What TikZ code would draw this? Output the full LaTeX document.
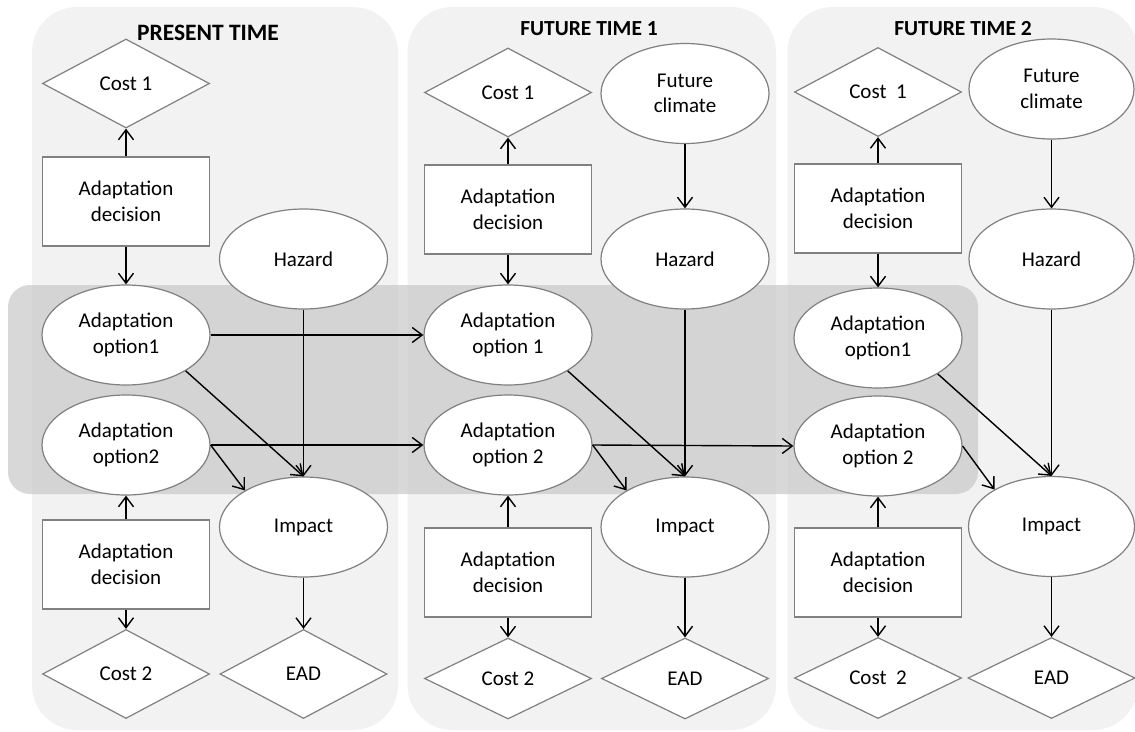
\documentclass[tikz,border=0pt]{standalone}
\usepackage{fontspec}
\setmainfont{Carlito}
\usetikzlibrary{shapes.geometric,arrows.meta}
\definecolor{panelgray}{HTML}{F2F2F2}
\definecolor{bordergray}{HTML}{808080}
\definecolor{bandgray}{HTML}{C8C8C8}
\begin{document}
\begin{tikzpicture}[x=1pt,y=-1pt,
  every node/.style={font=\fontsize{21}{25.5}\selectfont, align=center, inner sep=0pt},
  ell/.style={ellipse, draw=bordergray, line width=1.2pt, fill=white, minimum width=168pt, minimum height=100pt},
  box/.style={rectangle, draw=bordergray, line width=1.2pt, fill=white, minimum width=167pt, minimum height=89pt},
  dia/.style={diamond, draw=bordergray, line width=1.2pt, fill=white, minimum width=167pt, minimum height=89pt},
  dias/.style={dia, minimum height=81pt},
  arr/.style={draw=black, line width=1.4pt, -{Straight Barb[length=10pt,width=15pt]}},
  panel/.style={fill=panelgray, rounded corners=45pt},
  title/.style={font=\fontsize{21.5}{25}\bfseries\selectfont},
  bigtitle/.style={font=\fontsize{23.5}{27}\bfseries\selectfont}
]
\useasboundingbox (0,0) rectangle (1135,731);
\clip (0,0) rectangle (1135,731);
% panels
\fill[panel] (32,7) rectangle (398,730);
\fill[panel] (407.5,7) rectangle (776,730);
\fill[panel] (787.5,7) rectangle (1138,730);
% band
\fill[bandgray, fill opacity=0.7, rounded corners=22pt] (8,285) rectangle (978,494);

% panel 1
\node[bigtitle] (t1) at (208,33) {PRESENT TIME};
\node[dia] (c1a) at (126,83.5) {Cost 1};
\node[box] (d1a) at (126,201.5) {Adaptation\\decision};
\node[ell] (hza) at (303.5,259) {Hazard};
\node[ell] (o1a) at (126,335) {Adaptation\\option1};
\node[ell] (o2a) at (126,445) {Adaptation\\option2};
\node[ell] (ima) at (303.5,527) {Impact};
\node[box] (d2a) at (126,564.5) {Adaptation\\decision};
\node[dia] (c2a) at (126,674) {Cost 2};
\node[dia] (eaa) at (303.5,674) {EAD};

% panel 2
\node[title] (t2) at (589,29) {FUTURE TIME 1};
\node[dia] (c1b) at (508,92.5) {Cost 1};
\node[ell] (fcb) at (685,93.5) {Future\\climate};
\node[box] (d1b) at (508,209.5) {Adaptation\\decision};
\node[ell] (hzb) at (685,259) {Hazard};
\node[ell] (o1b) at (508,335) {Adaptation\\option 1};
\node[ell] (o2b) at (508,445) {Adaptation\\option 2};
\node[ell] (imb) at (685,527) {Impact};
\node[box] (d2b) at (508,572.5) {Adaptation\\decision};
\node[dias] (c2b) at (508,678.5) {Cost 2};
\node[dias] (eab) at (685,678.5) {EAD};

% panel 3
\node[title] (t3) at (963,29) {FUTURE TIME 2};
\node[dia] (c1c) at (878,92) {Cost~~1};
\node[ell, minimum width=165pt] (fcc) at (1051.5,89) {Future\\climate};
\node[box] (d1c) at (878,208.5) {Adaptation\\decision};
\node[ell, minimum width=165pt] (hzc) at (1051.5,259) {Hazard};
\node[ell] (o1c) at (878,338) {Adaptation\\option1};
\node[ell] (o2c) at (878,446) {Adaptation\\option 2};
\node[ell, minimum width=166pt] (imc) at (1051.5,526.5) {Impact};
\node[box] (d2c) at (878,572.5) {Adaptation\\decision};
\node[dias] (c2c) at (878,678) {Cost~~2};
\node[dias] (eac) at (1051.5,678) {EAD};

% connectors panel 1
\draw[arr] (d1a) -- (c1a);
\draw[arr] (d1a) -- (o1a);
\draw[arr] (hza) -- (ima);
\draw[arr] (o1a.-31) -- (ima.north);
\draw[arr] (o2a.east) -- (ima.148);
\draw[arr] (d2a) -- (o2a);
\draw[arr] (d2a) -- (c2a);
\draw[arr] (ima) -- (eaa);
\draw[arr] (o1a.east) -- (o1b.west);
\draw[arr] (o2a.east) -- (o2b.west);
% connectors panel 2
\draw[arr] (d1b) -- (c1b);
\draw[arr] (fcb) -- (hzb);
\draw[arr] (d1b) -- (o1b);
\draw[arr] (hzb) -- (imb);
\draw[arr] (o1b.-31) -- (imb.north);
\draw[arr] (o2b.east) -- (imb.148);
\draw[arr] (o2b.east) -- (o2c.west);
\draw[arr] (d2b) -- (o2b);
\draw[arr] (d2b) -- (c2b);
\draw[arr] (imb) -- (eab);
% connectors panel 3
\draw[arr] (d1c) -- (c1c);
\draw[arr] (fcc) -- (hzc);
\draw[arr] (d1c) -- (o1c);
\draw[arr] (hzc) -- (imc);
\draw[arr] (o1c.-31) -- (imc.north);
\draw[arr] (o2c.east) -- (imc.147);
\draw[arr] (d2c) -- (o2c);
\draw[arr] (d2c) -- (c2c);
\draw[arr] (imc) -- (eac);
\end{tikzpicture}
\end{document}
